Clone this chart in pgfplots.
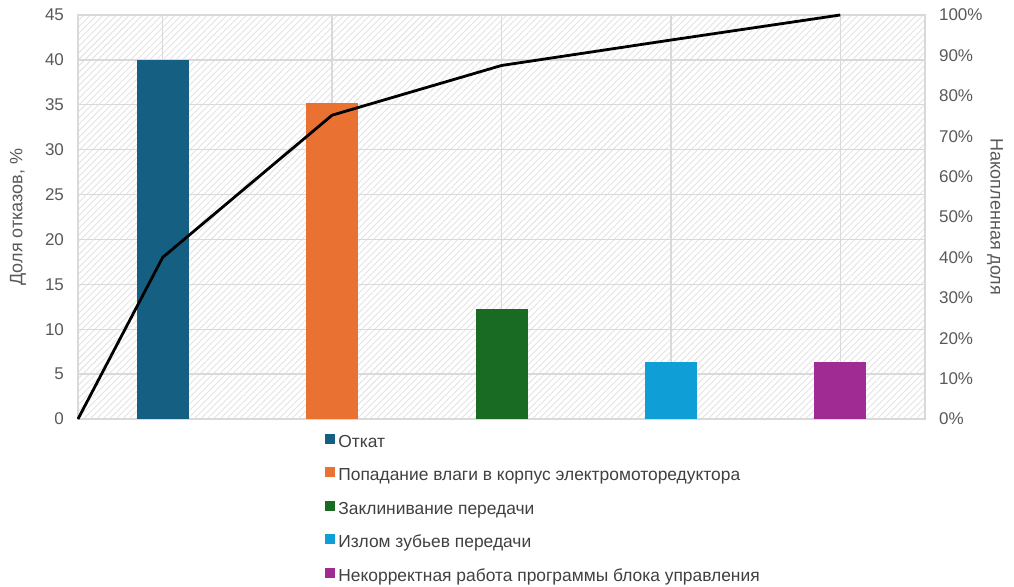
\documentclass[border=0pt]{standalone}
\usepackage{pgfplots}
\pgfplotsset{compat=1.18}
\usetikzlibrary{patterns.meta}
\usepackage{fontspec}
\setmainfont{Liberation Sans}

\definecolor{cA}{HTML}{156082}
\definecolor{cB}{HTML}{E97132}
\definecolor{cC}{HTML}{196B24}
\definecolor{cD}{HTML}{0F9ED5}
\definecolor{cE}{HTML}{A02B93}
\definecolor{tickgray}{HTML}{595959}
\definecolor{legendgray}{HTML}{404040}
\definecolor{gridgray}{HTML}{D9D9D9}
\definecolor{hatchgray}{HTML}{E4E4E4}

\pgfplotsset{
  sqlegend/.style={legend image code/.code={
    \fill[##1,/tikz/.cd] (0pt,-0.5pt) rectangle (5pt,4.5pt);}},
  bar/.style={ybar, bar width=26pt, bar shift=0pt, draw=none, fill=#1, sqlegend},
}

\begin{document}
\begin{tikzpicture}
\begin{axis}[
  scale only axis, width=423.5pt, height=202pt,
  xmin=0, xmax=5, ymin=0, ymax=45,
  ytick={0,5,...,45}, ytick pos=left,
  xtick={0.5,1.5,2.5,3.5,4.5}, xticklabels={},
  xmajorgrids, ymajorgrids,
  grid style={gridgray, line width=0.7pt},
  axis line style={gridgray, line width=0.7pt},
  axis background/.style={preaction={fill=white},
    pattern={Lines[angle=45,distance=2.3pt,line width=0.45pt]},
    pattern color=hatchgray},
  major tick length=0pt,
  tick label style={font=\fontsize{8.5}{10}\selectfont, text=tickgray},
  /pgf/number format/assume math mode=true,
  yticklabel style={xshift=-3.5pt},
  ylabel={Доля отказов, \%},
  ylabel style={at={(axis description cs:-0.0708,0.5)}, anchor=center,
    font=\fontsize{9}{11}\selectfont, text=tickgray},
  legend style={at={(axis description cs:0.2916,-0.036)}, anchor=north west,
    draw=none, fill=none, inner sep=0pt, row sep=8pt,
    font=\fontsize{8.7}{10.5}\selectfont, text=legendgray,
    nodes={inner sep=0pt, text height=6.5pt, text depth=2pt},
    /tikz/every odd column/.style={column sep=1.5pt}},
  legend cell align=left,
]
\addplot[bar=cA] coordinates {(0.5,40)};
\addlegendentry{Откат}
\addplot[bar=cB] coordinates {(1.5,35.2)};
\addlegendentry{Попадание влаги в корпус электромоторедуктора}
\addplot[bar=cC] coordinates {(2.5,12.3)};
\addlegendentry{Заклинивание передачи}
\addplot[bar=cD] coordinates {(3.5,6.3)};
\addlegendentry{Излом зубьев передачи}
\addplot[bar=cE] coordinates {(4.5,6.3)};
\addlegendentry{Некорректная работа программы блока управления}
\end{axis}

\begin{axis}[
  scale only axis, width=423.5pt, height=202pt,
  xmin=0, xmax=5, ymin=0, ymax=100,
  axis x line=none, axis y line*=right,
  axis line style={draw=none},
  ytick={0,10,...,100},
  yticklabel={\pgfmathprintnumber{\tick}\%},
  major tick length=0pt,
  tick label style={font=\fontsize{8.5}{10}\selectfont, text=tickgray},
  /pgf/number format/assume math mode=true,
  yticklabel style={xshift=3.5pt},
  ylabel={Накопленная доля},
  ylabel style={at={(axis description cs:1.0826,0.5)}, anchor=center, rotate=180,
    font=\fontsize{9}{11}\selectfont, text=tickgray},
  clip=false,
]
\addplot[black, line width=1.4pt, mark=none] coordinates
  {(0,0) (0.5,40) (1.5,75.2) (2.5,87.5) (3.5,93.8) (4.5,100)};
\end{axis}
\pgfresetboundingbox
\useasboundingbox (-39pt,-84pt) rectangle (468pt,209.5pt);
\end{tikzpicture}
\end{document}
